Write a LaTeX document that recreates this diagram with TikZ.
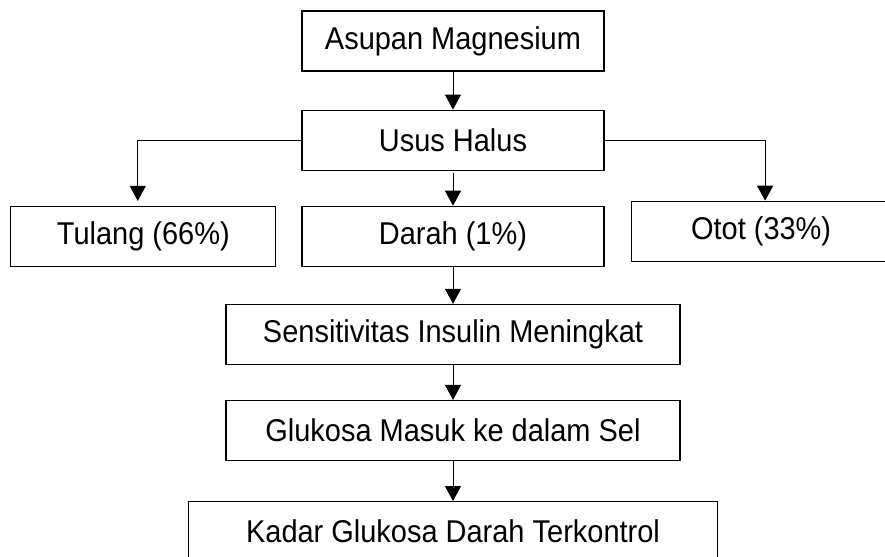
\documentclass[tikz,border=0pt]{standalone}
\usepackage{fontspec}
\setmainfont{Liberation Sans}[FakeStretch=0.92]
\usetikzlibrary{arrows.meta,positioning}

\begin{document}
\begin{tikzpicture}[
    font=\fontsize{22.4}{26}\selectfont,
    node distance=0.9cm and 0.625cm,
    block/.style={
        rectangle,
        draw=black,
        line width=0.8pt,
        minimum height=1.5cm,
        inner sep=0pt,
        align=center,
        fill=white
    },
    arrow/.style={-{Triangle[length=0.375cm,width=0.4cm]}, line width=0.7pt}
]

\useasboundingbox (0,0) rectangle (22.125,-13.9);

% =========================================================
% ASUPAN DAN PENYERAPAN
% =========================================================

\node[block, minimum width=7.55cm] (asupan) at (11.325,-1.025)
{Asupan Magnesium};

\node[block, minimum width=7.55cm, below=0.95cm of asupan] (usus)
{Usus Halus};

% =========================================================
% DISTRIBUSI
% =========================================================

\node[block, minimum width=7.55cm, below=0.875cm of usus] (darah)
{Darah (1\%)};

\node[block, minimum width=6.625cm, left=0.625cm of darah] (tulang)
{Tulang (66\%)};

\node[block, minimum width=6.5cm, right=0.65cm of darah, yshift=0.125cm] (otot)
{Otot (33\%)};

% =========================================================
% EFEK
% =========================================================

\node[block, minimum width=11.35cm, below=0.925cm of darah] (sensitivitas)
{Sensitivitas Insulin Meningkat};

\node[block, minimum width=11.35cm, below=0.875cm of sensitivitas] (glukosa)
{Glukosa Masuk ke dalam Sel};

\node[block, minimum width=13.225cm, below=1.0cm of glukosa] (kadar)
{Kadar Glukosa Darah Terkontrol};

% =========================================================
% PANAH
% =========================================================

\draw[arrow] (asupan) -- (usus);

% cabang ke tulang dan otot
\draw[arrow] (usus.west) -| ([xshift=-0.14cm,yshift=0.12cm]tulang.north);
\draw[arrow] (usus.east) -| ([xshift=0.1cm]otot.north);
\draw[arrow] ([yshift=-0.05cm]usus.south) -- (darah);

% alur ke bawah
\draw[arrow] (darah) -- (sensitivitas);
\draw[arrow] (sensitivitas) -- (glukosa);
\draw[arrow] (glukosa) -- (kadar);

\end{tikzpicture}
\end{document}
